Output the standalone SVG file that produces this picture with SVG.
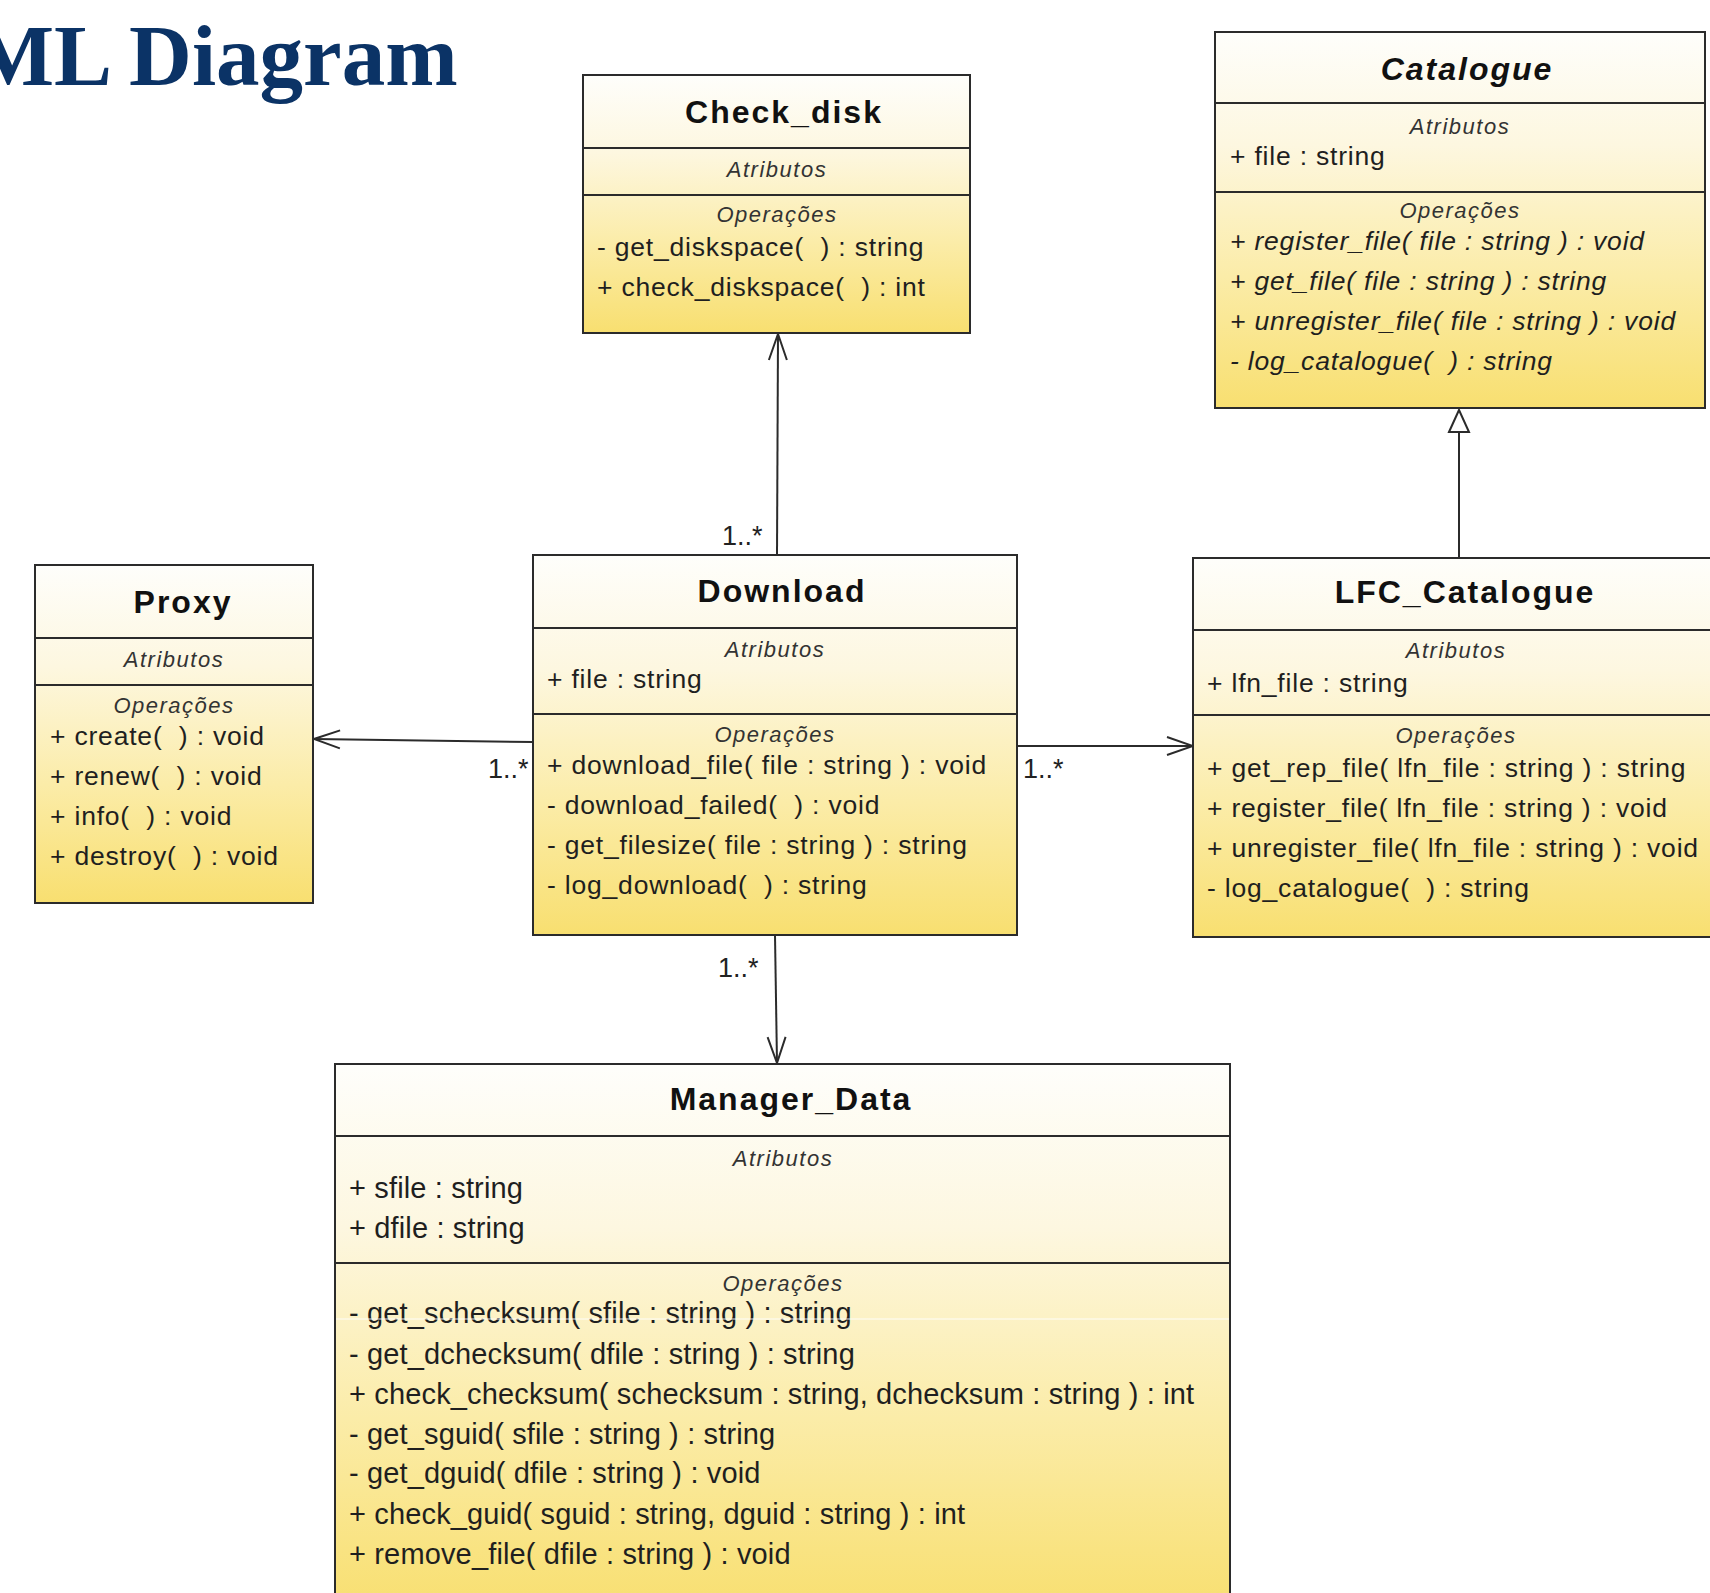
<svg xmlns="http://www.w3.org/2000/svg" width="1710" height="1593" viewBox="0 0 1710 1593">
<style>
text { font-family: "Liberation Sans", Arial, sans-serif; white-space: pre; }
.box { stroke: #2b2b2b; stroke-width: 2; fill: url(#cls); }
.div { stroke: #2b2b2b; stroke-width: 2; }
.title { font-weight: bold; font-size: 32px; letter-spacing: 2px; fill: #111; text-anchor: middle; }
.ti { font-style: italic; }
.sec { font-style: italic; font-size: 22px; letter-spacing: 1.5px; fill: #333; text-anchor: middle; }
.item { font-size: 26.5px; letter-spacing: 0.8px; fill: #1f1f1f; }
.it { font-style: italic; }
.md { font-size: 29px; letter-spacing: 0.15px; fill: #1f1f1f; }
.mult { font-size: 27px; fill: #222; }
.conn { stroke: #2b2b2b; stroke-width: 2; fill: none; }
.heading { font-family: "Liberation Serif", "Times New Roman", serif; font-weight: bold; font-size: 87px; fill: #0b3366; }
</style>
<defs>
<linearGradient id="cls" x1="0" y1="0" x2="0" y2="1">
<stop offset="0" stop-color="#fefefb"/>
<stop offset="0.3" stop-color="#fdf7e0"/>
<stop offset="0.65" stop-color="#fbeca8"/>
<stop offset="1" stop-color="#f8df70"/>
</linearGradient>
<marker id="open" markerUnits="userSpaceOnUse" markerWidth="30" markerHeight="24" viewBox="-2 -12 30 24" refX="26" refY="0" orient="auto">
<path d="M0,-9 L26,0 L0,9" fill="none" stroke="#2b2b2b" stroke-width="2"/>
</marker>
<marker id="tri" markerUnits="userSpaceOnUse" markerWidth="28" markerHeight="28" viewBox="-2 -14 28 28" refX="22" refY="0" orient="auto">
<path d="M0,-10 L22,0 L0,10 Z" fill="#ffffff" stroke="#2b2b2b" stroke-width="2"/>
</marker>
</defs>
<rect width="1710" height="1593" fill="#ffffff"/>

<text class="heading" x="-28" y="85">ML Diagram</text>

<g id="connectors">
<line class="conn" x1="777" y1="555" x2="778" y2="334" marker-end="url(#open)"/>
<line class="conn" x1="533" y1="742" x2="314" y2="739" marker-end="url(#open)"/>
<line class="conn" x1="1017" y1="746" x2="1193" y2="746" marker-end="url(#open)"/>
<line class="conn" x1="775" y1="935" x2="777" y2="1063" marker-end="url(#open)"/>
<line class="conn" x1="1459" y1="558" x2="1459" y2="410" marker-end="url(#tri)"/>
<text class="mult" x="722" y="545">1..*</text>
<text class="mult" x="488" y="778">1..*</text>
<text class="mult" x="1023" y="778">1..*</text>
<text class="mult" x="718" y="977">1..*</text>
</g>

<g id="check_disk">
<rect class="box" x="583" y="75" width="387" height="258"/>
<line class="div" x1="583" y1="148" x2="970" y2="148"/>
<line class="div" x1="583" y1="195" x2="970" y2="195"/>
<text class="title" x="784" y="123">Check_disk</text>
<text class="sec" x="777" y="177">Atributos</text>
<text class="sec" x="777" y="222">Operações</text>
<text class="item" x="597" y="256">- get_diskspace(  ) : string</text>
<text class="item" x="597" y="296">+ check_diskspace(  ) : int</text>
</g>

<g id="catalogue">
<rect class="box" x="1215" y="32" width="490" height="376"/>
<line class="div" x1="1215" y1="103" x2="1705" y2="103"/>
<line class="div" x1="1215" y1="192" x2="1705" y2="192"/>
<text class="title ti" x="1467" y="80">Catalogue</text>
<text class="sec" x="1460" y="134">Atributos</text>
<text class="item" x="1230" y="165">+ file : string</text>
<text class="sec" x="1460" y="218">Operações</text>
<text class="item it" x="1230" y="250">+ register_file( file : string ) : void</text>
<text class="item it" x="1230" y="290">+ get_file( file : string ) : string</text>
<text class="item it" x="1230" y="330">+ unregister_file( file : string ) : void</text>
<text class="item it" x="1230" y="370">- log_catalogue(  ) : string</text>
</g>

<g id="proxy">
<rect class="box" x="35" y="565" width="278" height="338"/>
<line class="div" x1="35" y1="638" x2="313" y2="638"/>
<line class="div" x1="35" y1="685" x2="313" y2="685"/>
<text class="title" x="183" y="613">Proxy</text>
<text class="sec" x="174" y="667">Atributos</text>
<text class="sec" x="174" y="713">Operações</text>
<text class="item" x="50" y="745">+ create(  ) : void</text>
<text class="item" x="50" y="785">+ renew(  ) : void</text>
<text class="item" x="50" y="825">+ info(  ) : void</text>
<text class="item" x="50" y="865">+ destroy(  ) : void</text>
</g>

<g id="download">
<rect class="box" x="533" y="555" width="484" height="380"/>
<line class="div" x1="533" y1="628" x2="1017" y2="628"/>
<line class="div" x1="533" y1="714" x2="1017" y2="714"/>
<text class="title" x="782" y="602">Download</text>
<text class="sec" x="775" y="657">Atributos</text>
<text class="item" x="547" y="688">+ file : string</text>
<text class="sec" x="775" y="742">Operações</text>
<text class="item" x="547" y="774">+ download_file( file : string ) : void</text>
<text class="item" x="547" y="814">- download_failed(  ) : void</text>
<text class="item" x="547" y="854">- get_filesize( file : string ) : string</text>
<text class="item" x="547" y="894">- log_download(  ) : string</text>
</g>

<g id="lfc_catalogue">
<rect class="box" x="1193" y="558" width="527" height="379"/>
<line class="div" x1="1193" y1="630" x2="1720" y2="630"/>
<line class="div" x1="1193" y1="715" x2="1720" y2="715"/>
<text class="title" x="1465" y="603">LFC_Catalogue</text>
<text class="sec" x="1456" y="658">Atributos</text>
<text class="item" x="1207" y="692">+ lfn_file : string</text>
<text class="sec" x="1456" y="743">Operações</text>
<text class="item" x="1207" y="777">+ get_rep_file( lfn_file : string ) : string</text>
<text class="item" x="1207" y="817">+ register_file( lfn_file : string ) : void</text>
<text class="item" x="1207" y="857">+ unregister_file( lfn_file : string ) : void</text>
<text class="item" x="1207" y="897">- log_catalogue(  ) : string</text>
</g>

<g id="manager_data">
<rect class="box" x="335" y="1064" width="895" height="546"/>
<line class="div" x1="335" y1="1136" x2="1230" y2="1136"/>
<line class="div" x1="335" y1="1263" x2="1230" y2="1263"/>
<text class="title" x="791" y="1110">Manager_Data</text>
<text class="sec" x="783" y="1166">Atributos</text>
<text class="md" x="349" y="1198">+ sfile : string</text>
<text class="md" x="349" y="1238">+ dfile : string</text>
<text class="sec" x="783" y="1291">Operações</text>
<text class="md" x="349" y="1323">- get_schecksum( sfile : string ) : string</text>
<text class="md" x="349" y="1364">- get_dchecksum( dfile : string ) : string</text>
<text class="md" x="349" y="1404">+ check_checksum( schecksum : string, dchecksum : string ) : int</text>
<text class="md" x="349" y="1444">- get_sguid( sfile : string ) : string</text>
<text class="md" x="349" y="1483">- get_dguid( dfile : string ) : void</text>
<text class="md" x="349" y="1524">+ check_guid( sguid : string, dguid : string ) : int</text>
<text class="md" x="349" y="1564">+ remove_file( dfile : string ) : void</text>
<line x1="336" y1="1319" x2="1229" y2="1319" stroke="#ffffff" stroke-width="1.2" opacity="0.9"/>
</g>
</svg>
